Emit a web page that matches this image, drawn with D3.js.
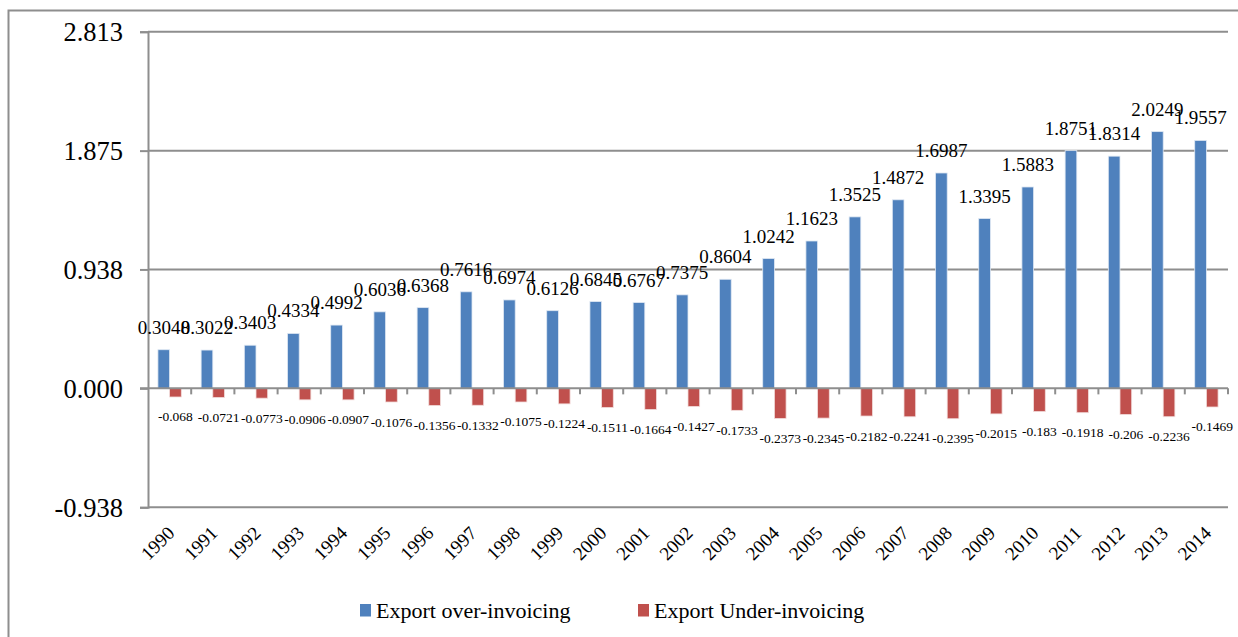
<!DOCTYPE html>
<html>
<head>
<meta charset="utf-8">
<script src="https://cdn.jsdelivr.net/npm/d3@7"></script>
<style>
  html, body { margin: 0; padding: 0; background: #fff; }
  svg { display: block; font-family: "Liberation Serif", serif; }
</style>
</head>
<body>
<div id="chart"></div>
<script>
const years = ['1990','1991','1992','1993','1994','1995','1996','1997','1998','1999','2000','2001','2002',
  '2003','2004','2005','2006','2007','2008','2009','2010','2011','2012','2013','2014']
const overInvoicing = [0.3048,0.3022,0.3403,0.4334,0.4992,0.6036,0.6368,0.7616,0.6974,0.6126,0.6845,0.6767,0.7375,
  0.8604,1.0242,1.1623,1.3525,1.4872,1.6987,1.3395,1.5883,1.8751,1.8314,2.0249,1.9557]
const underInvoicing = [-0.068,-0.0721,-0.0773,-0.0906,-0.0907,-0.1076,-0.1356,-0.1332,-0.1075,-0.1224,-0.1511,-0.1664,-0.1427,
  -0.1733,-0.2373,-0.2345,-0.2182,-0.2241,-0.2395,-0.2015,-0.183,-0.1918,-0.206,-0.2236,-0.1469]
const yTicks = [-0.938, 0, 0.938, 1.875, 2.813]
const yTickLabels = ['-0.938','0.000','0.938','1.875','2.813']
const seriesNames = ['Export over-invoicing','Export Under-invoicing']
const colors = ['#4f81bd','#c0504d']
const gridColor = '#8e8e8e'

const W = 1238, H = 637
const plot = {left: 148, right: 1228, top: 31.7, bottom: 507.3}

const svg = d3.select('#chart').append('svg')
  .attr('width', W)
  .attr('height', H)

// outer frame (runs past the bottom/right edge of the picture)
svg.append('rect')
  .attr('x', 8.5).attr('y', 10.5)
  .attr('width', W + 20).attr('height', H + 20)
  .attr('fill', 'none')
  .attr('stroke', gridColor)
  .attr('stroke-width', 2)

const x = d3.scaleBand().domain(years).range([plot.left, plot.right]).padding(0)
const x1 = d3.scaleBand().domain([0, 1]).range([0, x.bandwidth()]).paddingInner(0).paddingOuter(0.85)
const y = d3.scaleLinear().domain([yTicks[0], yTicks[yTicks.length - 1]]).range([plot.bottom, plot.top])

// gridlines
svg.append('g').selectAll('line')
  .data(yTicks.filter(d => d !== 0))
  .enter().append('line')
  .attr('x1', plot.left).attr('x2', plot.right)
  .attr('y1', d => y(d)).attr('y2', d => y(d))
  .attr('stroke', gridColor)
  .attr('stroke-width', 2)

// y axis
const yAxis = svg.append('g')
  .attr('transform', `translate(${plot.left},0)`)
  .call(d3.axisLeft(y).tickValues(yTicks).tickFormat((d, i) => yTickLabels[i]).tickSize(8).tickPadding(17))
yAxis.select('.domain').attr('stroke', gridColor).attr('stroke-width', 2)
yAxis.selectAll('.tick line').attr('stroke', gridColor).attr('stroke-width', 2)
yAxis.selectAll('.tick text')
  .attr('font-family', '"Liberation Serif", serif')
  .attr('font-size', 26.5)
  .attr('fill', '#000')
  .attr('dy', '0.33em')

// bars
const groups = svg.append('g').selectAll('g')
  .data(years)
  .enter().append('g')
  .attr('transform', d => `translate(${x(d)},0)`)

groups.append('rect')
  .attr('x', x1(0))
  .attr('width', x1.bandwidth())
  .attr('y', (d, i) => y(overInvoicing[i]))
  .attr('height', (d, i) => y(0) - y(overInvoicing[i]))
  .attr('fill', colors[0])
  .attr('stroke', '#dfe8f3')
  .attr('stroke-width', 0.8)

groups.append('rect')
  .attr('x', x1(1))
  .attr('width', x1.bandwidth())
  .attr('y', y(0))
  .attr('height', (d, i) => y(underInvoicing[i]) - y(0))
  .attr('fill', colors[1])
  .attr('stroke', '#f2dcdb')
  .attr('stroke-width', 0.8)

// x axis at zero
svg.append('line')
  .attr('x1', plot.left - 8).attr('x2', plot.right)
  .attr('y1', y(0)).attr('y2', y(0))
  .attr('stroke', gridColor)
  .attr('stroke-width', 2)
svg.append('g').selectAll('line')
  .data(years.map(d => x(d)).slice(1).concat([plot.right]))
  .enter().append('line')
  .attr('x1', d => d).attr('x2', d => d)
  .attr('y1', y(0)).attr('y2', y(0) + 6)
  .attr('stroke', gridColor)
  .attr('stroke-width', 2)

// value labels
groups.append('text')
  .attr('x', x1(0) + x1.bandwidth() / 2)
  .attr('y', (d, i) => y(overInvoicing[i]) - 16)
  .attr('text-anchor', 'middle')
  .attr('font-size', 19)
  .text((d, i) => overInvoicing[i])

groups.append('text')
  .attr('x', x1(1) + x1.bandwidth() / 2)
  .attr('y', (d, i) => y(underInvoicing[i]) + 24.5)
  .attr('text-anchor', 'middle')
  .attr('font-size', 13.5)
  .text((d, i) => underInvoicing[i])

// year labels along the bottom
svg.append('g').selectAll('text')
  .data(years)
  .enter().append('text')
  .attr('transform', d => `translate(${x(d) + x.bandwidth() / 2 + 6},${plot.bottom + 27}) rotate(-45)`)
  .attr('text-anchor', 'end')
  .attr('font-size', 19)
  .text(d => d)

// legend
const legend = svg.append('g').selectAll('g')
  .data(seriesNames)
  .enter().append('g')
  .attr('transform', (d, i) => `translate(${[360, 638][i]},604)`)
legend.append('rect')
  .attr('width', 11).attr('height', 12.5)
  .attr('fill', (d, i) => colors[i])
legend.append('text')
  .attr('x', 16).attr('y', 13.5)
  .attr('font-size', 22)
  .text(d => d)
</script>
</body>
</html>
